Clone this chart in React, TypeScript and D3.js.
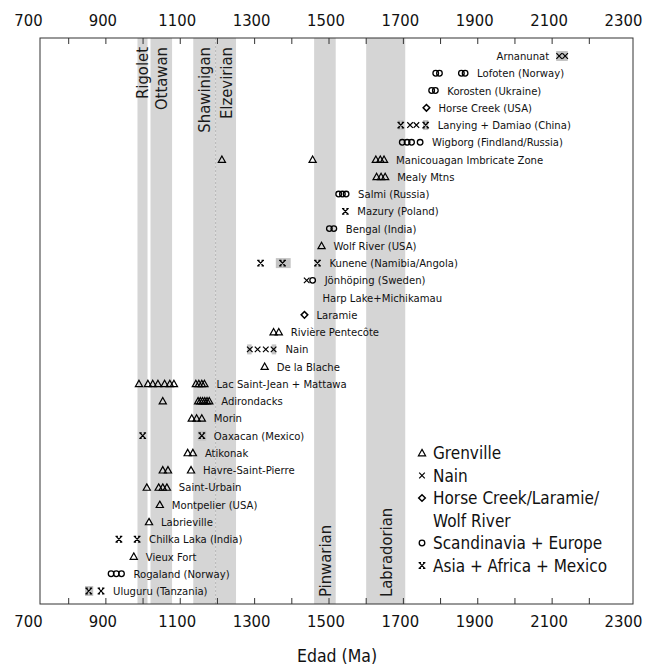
import React from 'react';
import * as d3 from 'd3';

// ---------- data ----------
const xTickLabels = [700, 900, 1100, 1300, 1500, 1700, 1900, 2100, 2300];
const xTickMarks = [800, 900, 1000, 1100, 1200, 1300, 1400, 1500, 1600, 1700, 1800, 1900, 2000, 2100, 2200];

const sites = [
  'Arnanunat',
  'Lofoten (Norway)',
  'Korosten (Ukraine)',
  'Horse Creek (USA)',
  'Lanying + Damiao (China)',
  'Wigborg (Findland/Russia)',
  'Manicouagan Imbricate Zone',
  'Mealy Mtns',
  'Salmi (Russia)',
  'Mazury (Poland)',
  'Bengal (India)',
  'Wolf River (USA)',
  'Kunene (Namibia/Angola)',
  'Jönhöping (Sweden)',
  'Harp Lake+Michikamau',
  'Laramie',
  'Rivière Pentecôte',
  'Nain',
  'De la Blache',
  'Lac Saint-Jean + Mattawa',
  'Adirondacks',
  'Morin',
  'Oaxacan (Mexico)',
  'Atikonak',
  'Havre-Saint-Pierre',
  'Saint-Urbain',
  'Montpelier (USA)',
  'Labrieville',
  'Chilka Laka (India)',
  'Vieux Fort',
  'Rogaland (Norway)',
  'Uluguru (Tanzania)',
];

// label anchor age for rows without markers / label side
const labelLeftSites = ['Arnanunat'];
const labelAnchorAges: [string, number][] = [['Harp Lake+Michikamau', 1450]];

const bands: [string, number, number, string][] = [
  ['Rigolet', 985, 1012, 'top'],
  ['Ottawan', 1020, 1078, 'top'],
  ['Shawinigan', 1135, 1195, 'top'],
  ['Elzevirian', 1195, 1250, 'top'],
  ['Pinwarian', 1460, 1518, 'bottom'],
  ['Labradorian', 1600, 1705, 'bottom'],
];
const bandDividers = [1195];

// markers: [site, age Ma]
const grenville: [string, number][] = [
  ['Manicouagan Imbricate Zone', 1212], ['Manicouagan Imbricate Zone', 1456],
  ['Manicouagan Imbricate Zone', 1626], ['Manicouagan Imbricate Zone', 1638], ['Manicouagan Imbricate Zone', 1648],
  ['Mealy Mtns', 1628], ['Mealy Mtns', 1640], ['Mealy Mtns', 1651],
  ['Wolf River (USA)', 1480],
  ['Rivière Pentecôte', 1351], ['Rivière Pentecôte', 1365],
  ['De la Blache', 1327],
  ['Lac Saint-Jean + Mattawa', 989], ['Lac Saint-Jean + Mattawa', 1013], ['Lac Saint-Jean + Mattawa', 1026],
  ['Lac Saint-Jean + Mattawa', 1040], ['Lac Saint-Jean + Mattawa', 1058], ['Lac Saint-Jean + Mattawa', 1072],
  ['Lac Saint-Jean + Mattawa', 1083], ['Lac Saint-Jean + Mattawa', 1142], ['Lac Saint-Jean + Mattawa', 1150],
  ['Lac Saint-Jean + Mattawa', 1158], ['Lac Saint-Jean + Mattawa', 1165],
  ['Adirondacks', 1053], ['Adirondacks', 1148], ['Adirondacks', 1154], ['Adirondacks', 1160],
  ['Adirondacks', 1166], ['Adirondacks', 1172], ['Adirondacks', 1178],
  ['Morin', 1131], ['Morin', 1144], ['Morin', 1158],
  ['Atikonak', 1120], ['Atikonak', 1134],
  ['Havre-Saint-Pierre', 1053], ['Havre-Saint-Pierre', 1067], ['Havre-Saint-Pierre', 1129],
  ['Saint-Urbain', 1010], ['Saint-Urbain', 1042], ['Saint-Urbain', 1053], ['Saint-Urbain', 1064],
  ['Montpelier (USA)', 1045],
  ['Labrieville', 1016],
  ['Vieux Fort', 975],
];

const nainType: [string, number][] = [
  ['Arnanunat', 2119], ['Arnanunat', 2135],
  ['Lanying + Damiao (China)', 1718], ['Lanying + Damiao (China)', 1735],
  ['Jönhöping (Sweden)', 1440],
  ['Nain', 1287], ['Nain', 1308], ['Nain', 1330], ['Nain', 1351],
];

const horseCreekType: [string, number][] = [
  ['Horse Creek (USA)', 1762],
  ['Laramie', 1434],
];

const scandinavia: [string, number][] = [
  ['Lofoten (Norway)', 1787], ['Lofoten (Norway)', 1797],
  ['Lofoten (Norway)', 1856], ['Lofoten (Norway)', 1866],
  ['Korosten (Ukraine)', 1776], ['Korosten (Ukraine)', 1786],
  ['Wigborg (Findland/Russia)', 1697], ['Wigborg (Findland/Russia)', 1710],
  ['Wigborg (Findland/Russia)', 1722], ['Wigborg (Findland/Russia)', 1745],
  ['Salmi (Russia)', 1526], ['Salmi (Russia)', 1536], ['Salmi (Russia)', 1546],
  ['Bengal (India)', 1501], ['Bengal (India)', 1513],
  ['Jönhöping (Sweden)', 1456],
  ['Rogaland (Norway)', 914], ['Rogaland (Norway)', 928], ['Rogaland (Norway)', 942],
];

const asiaType: [string, number][] = [
  ['Lanying + Damiao (China)', 1693], ['Lanying + Damiao (China)', 1760],
  ['Mazury (Poland)', 1544],
  ['Kunene (Namibia/Angola)', 1316], ['Kunene (Namibia/Angola)', 1375], ['Kunene (Namibia/Angola)', 1469],
  ['Oaxacan (Mexico)', 999], ['Oaxacan (Mexico)', 1158],
  ['Chilka Laka (India)', 935], ['Chilka Laka (India)', 984],
  ['Uluguru (Tanzania)', 854], ['Uluguru (Tanzania)', 887],
];

// uncertainty boxes: [site, from, to]
const rangeBoxes: [string, number, number][] = [
  ['Arnanunat', 2111, 2142],
  ['Lanying + Damiao (China)', 1686, 1700],
  ['Lanying + Damiao (China)', 1753, 1767],
  ['Kunene (Namibia/Angola)', 1357, 1397],
  ['Nain', 1280, 1292],
  ['Nain', 1346, 1358],
  ['Oaxacan (Mexico)', 1147, 1170],
  ['Uluguru (Tanzania)', 844, 866],
];

const legendItems: [string, string[]][] = [
  ['G', ['Grenville']],
  ['N', ['Nain']],
  ['H', ['Horse Creek/Laramie/', 'Wolf River']],
  ['S', ['Scandinavia + Europe']],
  ['A', ['Asia + Africa + Mexico']],
];

// ---------- layout ----------
const W = 649, H = 666;
const FONT = "'DejaVu Sans Condensed', 'DejaVu Sans', sans-serif";
const frame = { left: 40, right: 633, top: 38, bottom: 604 };
const x = d3.scaleLinear().domain([700, 2300]).range([31.5, 626.5]);
const y = d3.scalePoint<string>().domain(sites).range([56, 591]);

function Marker({ type, cx, cy }: { type: string; cx: number; cy: number }) {
  const s = 'black';
  if (type === 'G') {
    return <path d={`M${cx},${cy - 3.6}L${cx + 3.6},${cy + 2.8}L${cx - 3.6},${cy + 2.8}Z`} fill="none" stroke={s} strokeWidth={1.2} />;
  }
  if (type === 'N') {
    const r = 2.8;
    return <path d={`M${cx - r},${cy - r}L${cx + r},${cy + r}M${cx - r},${cy + r}L${cx + r},${cy - r}`} stroke={s} strokeWidth={1.2} />;
  }
  if (type === 'H') {
    const r = 3.3;
    return <path d={`M${cx},${cy - r}L${cx + r},${cy}L${cx},${cy + r}L${cx - r},${cy}Z`} fill="none" stroke={s} strokeWidth={1.5} />;
  }
  if (type === 'S') {
    return <circle cx={cx} cy={cy} r={2.8} fill="none" stroke={s} strokeWidth={1.3} />;
  }
  // asia
  const r = 2.8;
  return <path d={`M${cx - r},${cy - r}L${cx + r},${cy + r}M${cx - r},${cy + r}L${cx + r},${cy - r}M${cx - r - 0.6},${cy - r}L${cx - r + 1.8},${cy - r}M${cx + r - 1.8},${cy - r}L${cx + r + 0.6},${cy - r}M${cx - r - 0.6},${cy + r}L${cx - r + 1.8},${cy + r}M${cx + r - 1.8},${cy + r}L${cx + r + 0.6},${cy + r}`} stroke={s} strokeWidth={1.2} />;
}

export default function App() {
  const all: [string, string, number][] = [
    ...grenville.map(([s, a]) => ['G', s, a] as [string, string, number]),
    ...nainType.map(([s, a]) => ['N', s, a] as [string, string, number]),
    ...horseCreekType.map(([s, a]) => ['H', s, a] as [string, string, number]),
    ...scandinavia.map(([s, a]) => ['S', s, a] as [string, string, number]),
    ...asiaType.map(([s, a]) => ['A', s, a] as [string, string, number]),
  ];
  const anchorMap = new Map(labelAnchorAges);
  const labelPos = sites.map((site) => {
    const ages = all.filter((m) => m[1] === site).map((m) => m[2]);
    const left = labelLeftSites.includes(site);
    if (left) return { site, x: x(d3.min(ages)!) - 10, anchor: 'end' };
    const a = ages.length ? d3.max(ages)! : anchorMap.get(site)!;
    return { site, x: x(a) + 12, anchor: 'start' };
  });

  return (
    <svg width={W} height={H} style={{ position: 'absolute', left: 0, top: 0, background: 'white' }} fontFamily={FONT}>
      <rect x={0} y={0} width={W} height={H} fill="white" />
      {/* bands */}
      {bands.map(([name, a, b]) => (
        <rect key={name} x={x(a)} y={frame.top} width={x(b) - x(a)} height={frame.bottom - frame.top} fill="#d5d5d5" />
      ))}
      {bandDividers.map((d) => (
        <line key={d} x1={x(d)} x2={x(d)} y1={frame.top} y2={frame.bottom} stroke="#b0b0b0" strokeWidth={0.8} strokeDasharray="2,2" />
      ))}
      {bands.map(([name, a, b, pos]) => {
        const cx = (x(a) + x(b)) / 2;
        const yy = pos === 'top' ? 47 : 597;
        return (
          <text key={name + 't'} transform={`translate(${cx},${yy}) rotate(-90)`} dy="0.36em"
            textAnchor={pos === 'top' ? 'end' : 'start'} fontSize={16.5} fill="#1a1a1a" style={{ fontStretch: 'condensed' }}>
            {name}
          </text>
        );
      })}
      {/* range boxes */}
      {rangeBoxes.map(([s, a, b], i) => (
        <rect key={'rb' + i} x={x(a)} y={y(s)! - 5} width={x(b) - x(a)} height={10} fill="#c4c4c4" />
      ))}
      {/* markers */}
      {all.map(([t, s, a], i) => (
        <Marker key={'m' + i} type={t} cx={x(a)} cy={y(s)!} />
      ))}
      {/* site labels */}
      {labelPos.map((l) => (
        <text key={'l' + l.site} x={l.x} y={y(l.site)!} dy="0.36em" textAnchor={l.anchor} fontSize={11.2} fill="#111" style={{ fontStretch: 'condensed' }}>
          {l.site}
        </text>
      ))}
      {/* frame */}
      <rect x={frame.left} y={frame.top} width={frame.right - frame.left} height={frame.bottom - frame.top} fill="none" stroke="#333" strokeWidth={1} />
      {xTickMarks.map((t) => (
        <g key={'tk' + t}>
          <line x1={x(t)} x2={x(t)} y1={frame.top} y2={frame.top + 6} stroke="#333" />
          <line x1={x(t)} x2={x(t)} y1={frame.bottom} y2={frame.bottom - 6} stroke="#333" />
        </g>
      ))}
      {xTickLabels.map((t) => (
        <g key={'tl' + t} fontSize={16.5} fill="#111" style={{ fontStretch: 'condensed' }}>
          <text x={x(t) - 3} y={26} textAnchor="middle">{t}</text>
          <text x={x(t) - 3} y={627} textAnchor="middle">{t}</text>
        </g>
      ))}
      <text x={337} y={662} textAnchor="middle" fontSize={17.5} fill="#111" style={{ fontStretch: 'condensed' }}>Edad (Ma)</text>
      {/* legend */}
      {(() => {
        let row = 0;
        const y0 = 453, dy = 22.5;
        return legendItems.map(([t, lines]) => {
          const yy = y0 + row * dy;
          const el = (
            <g key={'lg' + t}>
              <Marker type={t} cx={422} cy={yy} />
              {lines.map((ln, j) => (
                <text key={j} x={433} y={yy + j * dy} dy="0.36em" fontSize={17} fill="#111" style={{ fontStretch: 'condensed' }}>{ln}</text>
              ))}
            </g>
          );
          row += lines.length;
          return el;
        });
      })()}
    </svg>
  );
}
